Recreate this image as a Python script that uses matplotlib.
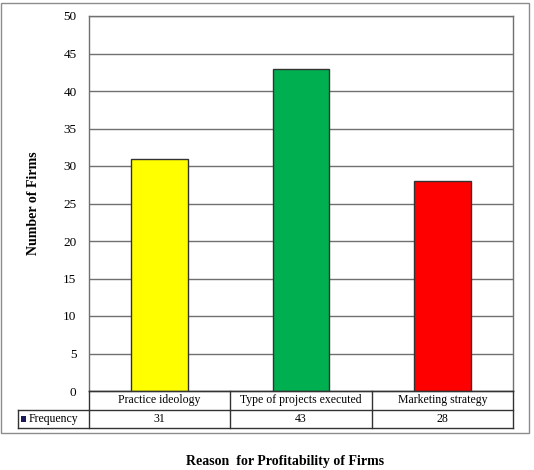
import matplotlib
matplotlib.use("Agg")
import matplotlib.pyplot as plt
from matplotlib.patches import Rectangle
from matplotlib.lines import Line2D

categories = ["Practice ideology", "Type of projects executed", "Marketing strategy"]
frequency = [31, 43, 28]
colors = ["#FFFF00", "#00B050", "#FF0000"]
series_name = "Frequency"
yticks = [0, 5, 10, 15, 20, 25, 30, 35, 40, 45, 50]

plt.rcParams['font.family'] = ['Liberation Serif', 'DejaVu Serif']

W, H = 534, 470
fig = plt.figure(figsize=(W/100, H/100), dpi=100)

def fx(px): return px / W
def fy(py): return 1 - py / H

# outer chart border
fig.add_artist(Rectangle((fx(1), fy(433)), fx(529) - fx(1), fy(3) - fy(433),
                         transform=fig.transFigure, fill=False, edgecolor="#8c8c8c", lw=1.0))

ax = fig.add_axes([fx(89), fy(391), fx(513) - fx(89), fy(16) - fy(391)])
x = list(range(len(categories)))
ax.bar(x, frequency, width=0.4, color=colors, edgecolor="#333333", linewidth=1.0, zorder=3)
ax.set_xlim(-0.5, len(categories) - 0.5)
ax.set_ylim(0, 50)
ax.set_yticks(yticks)
ax.set_yticklabels([str(t) for t in yticks], fontsize=9.5)
ax.set_xticks([])
ax.yaxis.grid(True, color="#707070", lw=1.0, zorder=0)
ax.tick_params(axis='y', length=0, pad=9)
for s in ax.spines.values():
    s.set_color("#707070")
    s.set_linewidth(1.0)
ax.set_ylabel("Number of Firms", fontsize=10, fontweight='bold')
ax.yaxis.set_label_coords(-0.115, 0.5)

# data table below
cols = [89, 230, 372, 513]
lc = "#333333"
def hline(y, x0, x1):
    fig.add_artist(Line2D([fx(x0), fx(x1)], [fy(y), fy(y)], transform=fig.transFigure, color=lc, lw=1.0))
def vline(x0, y0, y1):
    fig.add_artist(Line2D([fx(x0), fx(x0)], [fy(y0), fy(y1)], transform=fig.transFigure, color=lc, lw=1.0))
hline(391, 89, 513)
hline(410, 18, 513)
hline(428, 18, 513)
vline(18, 410, 428)
for c in cols:
    vline(c, 391, 428)
for i, cat in enumerate(categories):
    xc = (cols[i] + cols[i + 1]) / 2
    fig.text(fx(xc), fy(400.5), cat, ha='center', va='center', fontsize=8.5)
    fig.text(fx(xc), fy(419), str(frequency[i]), ha='center', va='center', fontsize=8.5)
fig.add_artist(Rectangle((fx(21), fy(422)), fx(5), fy(416) - fy(422), transform=fig.transFigure,
                         facecolor="#1a1a5a", edgecolor="none"))
fig.text(fx(29), fy(419), series_name, ha='left', va='center', fontsize=8.5)

fig.text(fx(285), fy(461), "Reason  for Profitability of Firms", ha='center', va='center',
         fontsize=10, fontweight='bold')

fig.savefig("out.png", dpi=100, facecolor="white")
